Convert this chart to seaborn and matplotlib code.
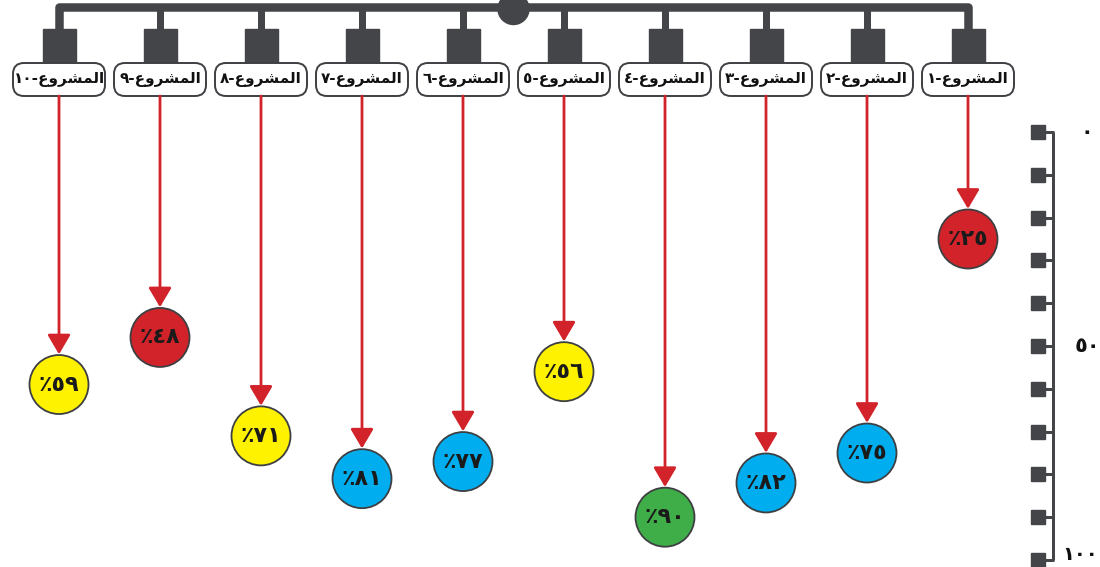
import matplotlib
matplotlib.use("Agg")
import matplotlib.pyplot as plt
import matplotlib.transforms as mtransforms
from matplotlib.patches import FancyBboxPatch, Circle
from matplotlib.path import Path
from matplotlib.patches import PathPatch
import seaborn as sns
import pandas as pd

# ---------------- data ----------------
project_numbers = [1, 2, 3, 4, 5, 6, 7, 8, 9, 10]
values = [25, 75, 82, 90, 56, 77, 81, 71, 48, 59]
axis_ticks = [0, 10, 20, 30, 40, 50, 60, 70, 80, 90, 100]
axis_tick_labels = {0: "٠", 50: "٥٠", 100: "١٠٠"}

AR_DIGITS = "٠١٢٣٤٥٦٧٨٩"
# "المشروع" in shaped presentation forms, visual (left-to-right) order
WORD_VISUAL = "\uFEC9\uFEED\uFEAE\uFEB8\uFEE4\uFEDF\uFE8D"


def ar(n):
    return "".join(AR_DIGITS[int(c)] for c in str(n))


def status_color(v):
    if v < 50:
        return "red"
    if v < 75:
        return "yellow"
    if v < 90:
        return "blue"
    return "green"


palette = {"red": "#d2232a", "yellow": "#fff200", "blue": "#00aeef", "green": "#3fae49"}

df = pd.DataFrame({
    "project": project_numbers,
    "value": values,
    "pos": [len(project_numbers) - n for n in project_numbers],
})
df["status"] = [status_color(v) for v in values]
df["label"] = [ar(n) + "-" + WORD_VISUAL for n in project_numbers]
df["vlabel"] = ["٪" + ar(v) for v in values]

# ---------------- style ----------------
sns.set_style("white")
plt.rcParams["font.family"] = ["DejaVu Sans", "Noto Sans"]

DARK = "#434548"
RED = "#d2232a"
W, H = 1100, 567
PX0, PXSTEP = 59, 101          # layout of the columns
Y0, K = 132, 4.28              # pixel row of value 0 and pixels per unit

fig = plt.figure(figsize=(W / 100, H / 100), dpi=100)
deco = fig.add_axes([0, 0, 1, 1])
deco.set_xlim(0, W)
deco.set_ylim(H, 0)
deco.axis("off")

ax = fig.add_axes([0, 0, 1, 1], facecolor="none")

# circles via seaborn
r_px = 29.5
s = (2 * r_px * 0.72) ** 2
sns.scatterplot(data=df, x="pos", y="value", hue="status", palette=palette,
                s=s, edgecolor="#3d3f42", linewidth=1.3, legend=False, ax=ax, zorder=4)
ax.set_xlim(-PX0 / PXSTEP, (W - PX0) / PXSTEP)
ax.set_ylim((H - Y0) / K, -Y0 / K)
ax.axis("off")

for _, row in df.iterrows():
    ax.text(row["pos"], row["value"], row["vlabel"], ha="center", va="center",
            fontsize=16, fontweight="bold", color="#1a1a1a", zorder=5)

# x pixel of each column
xs = [ax.transData.transform((p, 0))[0] for p in df["pos"]]

# ---------------- tree on top ----------------
lw_bar = 8.5 * 0.72
xmin, xmax = min(xs), max(xs)
path = Path([(xmin, 31), (xmin, 7), (xmax, 7), (xmax, 31)],
            [Path.MOVETO, Path.LINETO, Path.LINETO, Path.LINETO])
deco.add_patch(PathPatch(path, fill=False, edgecolor=DARK, lw=lw_bar,
                         joinstyle="round", capstyle="butt", zorder=2))
deco.add_patch(Circle(((xmin + xmax) / 2, 9), 15.5, color=DARK, zorder=3))

for x, lab in zip(xs, df["label"]):
    deco.plot([x, x], [7, 31], color=DARK, lw=7 * 0.72, solid_capstyle="butt", zorder=2)
    deco.add_patch(plt.Rectangle((x - 16.5, 29), 33, 33, color=DARK, zorder=2))
    deco.add_patch(FancyBboxPatch((x - 46, 63), 92, 33,
                                  boxstyle="round,pad=0,rounding_size=11",
                                  facecolor="white", edgecolor="#3d3f42", lw=1.4, zorder=3))
    deco.text(x, 79.5, lab, ha="center", va="center", fontsize=11, fontweight="bold",
              color="#111111", zorder=4)

# arrows from label boxes to circles
for x, (_, row) in zip(xs, df.iterrows()):
    ax.annotate("", xy=(row["pos"], row["value"]), xycoords="data",
                xytext=(x, 96), textcoords=deco.transData,
                arrowprops=dict(arrowstyle="-|>,head_length=0.85,head_width=0.5",
                                color=RED, lw=2.0, shrinkA=0, shrinkB=r_px * 0.72 + 0.5,
                                mutation_scale=14),
                zorder=3)

# ---------------- right value axis ----------------
blend = mtransforms.blended_transform_factory(deco.transData, ax.transData)
AX_X = 1053
ax.plot([AX_X, AX_X], [axis_ticks[0], axis_ticks[-1]], color=DARK, lw=3 * 0.72,
        transform=blend, zorder=2, solid_capstyle="butt")
for t in axis_ticks:
    ax.plot([1040, AX_X + 1], [t, t], color=DARK, lw=3 * 0.72, transform=blend,
            zorder=2, solid_capstyle="butt")
    ax.plot([1038], [t], marker="s", markersize=14 * 0.72, color=DARK,
            transform=blend, zorder=3)
    if t in axis_tick_labels:
        lab = axis_tick_labels[t]
        if t == axis_ticks[-1]:
            ax.text(1098, t - 1.2, lab, ha="right", va="center", fontsize=14,
                    fontweight="bold", color="#111111", transform=blend)
        else:
            ax.text(1087, t, lab, ha="center", va="center", fontsize=15,
                    fontweight="bold", color="#111111", transform=blend)

fig.savefig("out.png", dpi=100)
